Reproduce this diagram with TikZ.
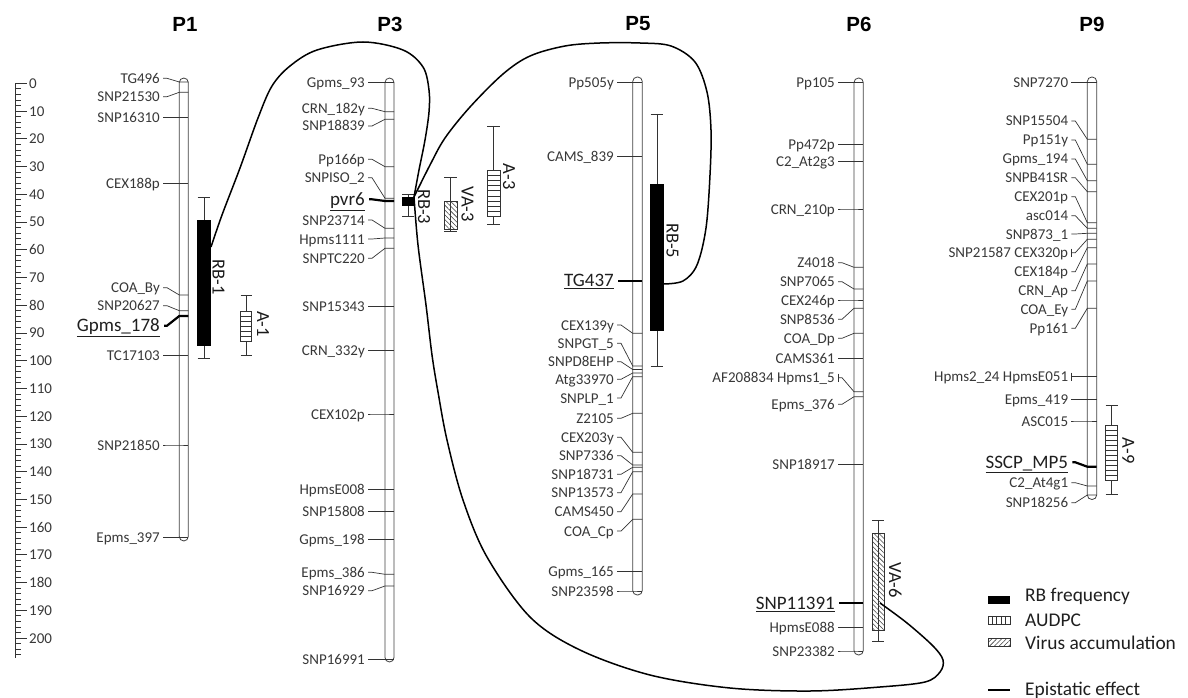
\documentclass[tikz,border=0pt]{standalone}
\usepackage{fontspec}
\setmainfont{Carlito}
\newfontfamily\hdfont{Liberation Sans}
\usetikzlibrary{patterns.meta}
\newcounter{mk}
\tikzset{
  lab/.style={font=\fontsize{15}{15}\selectfont, text=black!78, inner sep=0pt, anchor=east, text height=10pt, text depth=0pt},
  biglab/.style={font=\fontsize{19}{19}\selectfont, text=black!88, inner sep=0pt, anchor=east, text height=12.2pt, text depth=0pt},
  lead/.style={line width=0.7pt, draw=black!80},
  thicklead/.style={line width=2.2pt, draw=black},
  chrom/.style={line width=0.8pt, draw=black!75, rounded corners=4.5pt},
  barlab/.style={font=\fontsize{18.5}{18.5}\selectfont, rotate=-90, inner sep=0pt, text=black!90},
  epi/.style={line width=1.5pt, draw=black},
  hdr/.style={font=\hdfont\bfseries\fontsize{20.5}{20.5}\selectfont},
  legtext/.style={font=\fontsize{19.4}{19.4}\selectfont, anchor=west, inner sep=0pt, text=black!88},
  rbbar/.style={fill=black, draw=black, line width=0.5pt},
  audbar/.style={fill=white, draw=black!80, line width=0.7pt},
  vabar/.style={draw=black!80, line width=0.7pt, pattern={Lines[angle=-45,distance=3.4pt,line width=0.55pt]}, pattern color=black!75},
}
% marker: label y, tick y, text
\newcommand\mk[3]{%
  \stepcounter{mk}%
  \node[lab] (m\arabic{mk}) at (\LX,#1) {#3};
  \coordinate (t\arabic{mk}) at (\CL,#2);
  \draw[lead] ([xshift=3pt]m\arabic{mk}.east) -- ++(4,0) -- (t\arabic{mk}) -- (\CR,#2);}
\newcommand\bkmk[3]{%
  \stepcounter{mk}%
  \node[lab] (m\arabic{mk}) at (\LX,#1) {#3};
  \coordinate (t\arabic{mk}) at (\CL,#2);
  \draw[lead] ([xshift=3pt]m\arabic{mk}.east) ++(0,-4) -- ++(0,8);
  \draw[lead] ([xshift=3pt]m\arabic{mk}.east) -- ++(4,0) -- (t\arabic{mk}) -- (\CR,#2);}
\newcommand\bmk[3]{%
  \stepcounter{mk}%
  \node[biglab] (m\arabic{mk}) at (\LX,#1) {\underline{#3}};
  \coordinate (t\arabic{mk}) at (\CL,#2);
  \draw[thicklead] ([xshift=4pt]m\arabic{mk}.east) -- ++(3,0) -- (t\arabic{mk}) -- (\CR,#2);}
% qtl: style, xl, xr, whisker top, box top, box bottom, whisker bottom
\newcommand\qtl[7]{%
  \draw[lead] ({(#2+#3)/2},#4) -- ({(#2+#3)/2},#7);
  \draw[lead] (#2,#4) -- (#3,#4);
  \draw[lead] (#2,#7) -- (#3,#7);
  \draw[#1] (#2,#5) rectangle (#3,#6);}
\newcommand\stripes[4]{%
  \pgfmathsetmacro\ns{int(round((#4-#3)/5.2))}%
  \pgfmathsetmacro\nsm{int(\ns-1)}%
  \pgfmathsetmacro\dy{(#4-#3)/\ns}%
  \foreach \k in {1,...,\nsm} {\draw[lead] (#1,#3+\k*\dy) -- (#2,#3+\k*\dy);}}
\begin{document}
\begin{tikzpicture}[x=1pt,y=-1pt]
\useasboundingbox (0,0) rectangle (1188,698);

% headers
\node[hdr] (h1) at (185,24) {P1};
\node[hdr] (h3) at (390,24) {P3};
\node[hdr] (h5) at (638,24) {P5};
\node[hdr] (h6) at (859,24) {P6};
\node[hdr] (h9) at (1092,24) {P9};

% ruler
\draw[lead] (15.7,83.3) -- (15.7,658);
\foreach \i in {0,2,...,206} {\draw[lead] (15.7,83.3+2.7735*\i) -- (20.7,83.3+2.7735*\i);}
\foreach \i in {0,10,...,200} {
  \draw[lead] (15.7,83.3+2.7735*\i) -- (26.7,83.3+2.7735*\i);
  \node[lab, anchor=west] (r\i) at (29,83.3+2.7735*\i) {\i};}

% chromosomes
\draw[chrom] (179.3,78) rectangle (188.3,541);
\draw[chrom] (385,78) rectangle (394,662);
\draw[chrom] (632.7,77) rectangle (642.3,595);
\draw[chrom] (854,78) rectangle (863.3,655);
\draw[chrom] (1087.3,77) rectangle (1096.7,499.5);

% P1 markers
\def\LX{160}\def\CL{179.3}\def\CR{188.3}
\mk{78.3}{82}{TG496}
\mk{96.7}{92.3}{SNP21530}
\mk{117.7}{117.7}{SNP16310}
\mk{183.3}{183.3}{CEX188p}
\mk{287.7}{295}{COA\_By}
\mk{305.7}{310.7}{SNP20627}
\bmk{325.7}{316}{Gpms\_178}
\mk{355.7}{355.7}{TC17103}
\mk{445}{445}{SNP21850}
\mk{537.3}{537.3}{Epms\_397}

% P3 markers
\def\LX{365}\def\CL{385}\def\CR{394}
\mk{82.3}{82.3}{Gpms\_93}
\mk{108.3}{111.7}{CRN\_182y}
\mk{126}{119.3}{SNP18839}
\mk{159.3}{166.7}{Pp166p}
\mk{177.7}{198.3}{SNPISO\_2}
\bmk{199.3}{201}{pvr6}
\mk{220}{228.3}{SNP23714}
\mk{239}{238}{Hpms1111}
\mk{258.3}{248.3}{SNPTC220}
\mk{306.7}{306.7}{SNP15343}
\mk{350.7}{350.7}{CRN\_332y}
\mk{414}{414}{CEX102p}
\mk{489.7}{489.7}{HpmsE008}
\mk{511.7}{511.7}{SNP15808}
\mk{539.3}{539.3}{Gpms\_198}
\mk{572.3}{574.3}{Epms\_386}
\mk{590.7}{586}{SNP16929}
\mk{659.3}{659.3}{SNP16991}

% P5 markers
\def\LX{614}\def\CL{632.7}\def\CR{642.3}
\mk{82.7}{82.7}{Pp505y}
\mk{156.7}{156.7}{CAMS\_839}
\bmk{280.7}{280.7}{TG437}
\mk{325}{333.3}{CEX139y}
\mk{343.3}{366}{SNPGT\_5}
\mk{361.7}{369.5}{SNPD8EHP}
\mk{379.3}{373}{Atg33970}
\mk{398}{376.7}{SNPLP\_1}
\mk{418.3}{413.3}{Z2105}
\mk{437.3}{452.3}{CEX203y}
\mk{455.7}{465}{SNP7336}
\mk{474.3}{467.3}{SNP18731}
\mk{492.7}{471.7}{SNP13573}
\mk{511.7}{494}{CAMS450}
\mk{531}{519.3}{COA\_Cp}
\mk{571.7}{571.7}{Gpms\_165}
\mk{591}{591}{SNP23598}

% P6 markers
\def\LX{835}\def\CL{854}\def\CR{863.3}
\mk{82.7}{82.7}{Pp105}
\mk{144.3}{144.3}{Pp472p}
\mk{161.7}{161.7}{C2\_At2g3}
\mk{209}{209}{CRN\_210p}
\mk{262.7}{267.3}{Z4018}
\mk{281.7}{289}{SNP7065}
\mk{300}{300}{CEX246p}
\mk{319.3}{308.3}{SNP8536}
\mk{338.3}{333.3}{COA\_Dp}
\mk{358.3}{358.3}{CAMS361}
\bkmk{377.7}{391.7}{AF208834 Hpms1\_5}
\mk{404.3}{396.7}{Epms\_376}
\mk{464.3}{464.3}{SNP18917}
\bmk{603.3}{603.3}{SNP11391}
\mk{627.7}{627.7}{HpmsE088}
\mk{651}{651}{SNP23382}

% P9 markers
\def\LX{1068.3}\def\CL{1087.3}\def\CR{1096.7}
\mk{82.3}{82.3}{SNP7270}
\mk{121}{139.3}{SNP15504}
\mk{140}{164.3}{Pp151y}
\mk{159}{180.7}{Gpms\_194}
\mk{177.7}{191.7}{SNPB41SR}
\mk{196.7}{222.7}{CEX201p}
\mk{215.7}{228.3}{asc014}
\mk{234}{233.3}{SNP873\_1}
\bkmk{252.7}{239.3}{SNP21587 CEX320p}
\mk{271.7}{247.7}{CEX184p}
\mk{290.7}{264}{CRN\_Ap}
\mk{309.3}{281}{COA\_Ey}
\mk{328.3}{308.3}{Pp161}
\bkmk{376.7}{376.7}{Hpms2\_24 HpmsE051}
\mk{399.3}{399.3}{Epms\_419}
\mk{421}{421}{ASC015}
\bmk{462.3}{466.7}{SSCP\_MP5}
\mk{482.7}{486}{C2\_At4g1}
\mk{502.7}{495}{SNP18256}

% QTL bars
\qtl{rbbar}{197.7}{210}{197.7}{220}{345}{358.3}
\node[barlab] (lrb1) at (218.5,277) {RB-1};
\qtl{audbar}{240.7}{251.7}{295.3}{311}{341.7}{355}
\stripes{240.7}{251.7}{311}{341.7}
\node[barlab] (la1) at (263,324) {A-1};

\qtl{rbbar}{402.3}{414}{194.3}{197.3}{205.7}{216.7}
\node[barlab] (lrb3) at (424,206.7) {RB-3};
\qtl{vabar}{444.3}{457.3}{177.7}{201}{229.3}{231.7}
\node[barlab] (lva3) at (467.5,204) {VA-3};
\qtl{audbar}{487.3}{500}{126}{170}{216.7}{224.3}
\stripes{487.3}{500}{170}{216.7}
\node[barlab] (la3) at (509,176.7) {A-3};

\qtl{rbbar}{650.7}{663.3}{114}{184}{330}{366.7}
\node[barlab] (lrb5) at (672.5,240.8) {RB-5};

\qtl{vabar}{872.3}{884.3}{520}{533.3}{630}{641.7}
\node[barlab] (lva6) at (895.3,580) {VA-6};

\qtl{audbar}{1105.7}{1117.7}{405.7}{425}{480}{494.3}
\stripes{1105.7}{1117.7}{425}{480}
\node[barlab] (la9) at (1128.3,450.8) {A-9};

% epistatic curves
\coordinate (e1) at (211,247);
\coordinate (e3) at (414,197);
\coordinate (e5) at (663.3,284);
\coordinate (e6) at (880,603);
\draw[epi] plot[smooth, tension=0.55] coordinates {(e1) (222,215) (240,168) (258,118) (272,86) (290,66) (317,50) (363,42) (403,50) (423,67) (429,90) (429,112) (425,140) (419,170) (e3)};
\draw[epi] plot[smooth, tension=0.55] coordinates {(e3) (430,165) (445,138) (470,107) (503,74) (530,56) (565,46) (600,43) (640,43) (671,46) (695,62) (707,92) (711,130) (710,175) (706,228) (697,265) (683,281) (e5)};
\draw[epi] plot[smooth, tension=0.55] coordinates {(e3) (418,245) (426,305) (432,355) (438,392) (447,440) (463,500) (487,557) (530,617) (580,650) (650,675) (730,688) (810,691) (880,687) (925,682) (940,672) (943,660) (933,646) (907,623) (e6)};

% legend
\fill (988,596) rectangle (1010,604);
\node[legtext] (lg1) at (1025,596.7) {RB frequency};
\draw[lead, fill=white] (988,616) rectangle (1010,624);
\foreach \xx in {992.4,996.8,1001.2,1005.6} {\draw[lead] (\xx,616) -- (\xx,624);}
\node[legtext] (lg2) at (1025,620) {AUDPC};
\draw[lead, pattern={Lines[angle=45,distance=3.4pt,line width=0.55pt]}, pattern color=black!75] (988,638.5) rectangle (1010,646.5);
\node[legtext] (lg3) at (1025,643.3) {Virus accumulation};
\coordinate (lgA) at (988,690);
\coordinate (lgB) at (1010,690);
\draw[epi] (lgA) -- (lgB);
\node[legtext] (lg4) at (1025,690) {Epistatic effect};
\end{tikzpicture}
\end{document}
